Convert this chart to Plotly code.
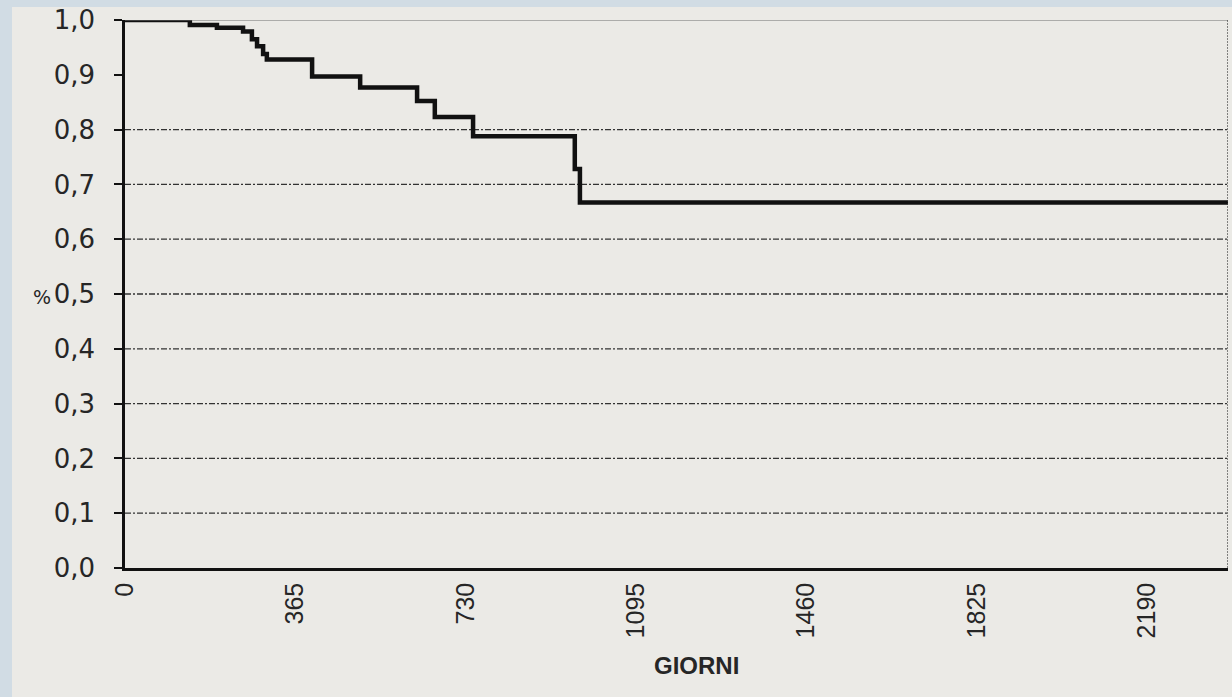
import plotly.graph_objects as go

# Kaplan-Meier survival estimate (days vs. cumulative proportion)
DAYS = [0, 139, 197, 253, 272, 283, 296, 304, 401, 504, 626, 664, 746, 964, 975, 2364]
SURVIVAL = [1.0, 0.991, 0.986, 0.979, 0.965, 0.952, 0.938, 0.928, 0.897, 0.877,
            0.852, 0.823, 0.788, 0.728, 0.667, 0.667]

X_TICKS = [0, 365, 730, 1095, 1460, 1825, 2190]
Y_TICKS = [0.0, 0.1, 0.2, 0.3, 0.4, 0.5, 0.6, 0.7, 0.8, 0.9, 1.0]
GRID_LEVELS = [0.1, 0.2, 0.3, 0.4, 0.5, 0.6, 0.7, 0.8]
X_MAX = 2364

W, H = 1232, 697
ML, MR, MT, MB = 125, 4, 20, 129
PW, PH = W - ML - MR, H - MT - MB

def px_x(p):
    return (p - ML) / PW

def px_y(p):
    return (H - MB - p) / PH

INK = "#262626"
FONT = "Liberation Sans, Arial, sans-serif"
YFONT = "DejaVu Sans, Liberation Sans, sans-serif"

fig = go.Figure()
fig.add_trace(go.Scatter(
    x=DAYS, y=SURVIVAL, mode="lines", line=dict(shape="hv", color="#111111", width=4.5),
    hoverinfo="skip", showlegend=False,
))

shapes = [
    # sheet of paper
    dict(type="rect", xref="paper", yref="paper", x0=px_x(12), x1=px_x(W + 5),
         y0=px_y(H + 5), y1=px_y(7), fillcolor="#ebeae6", line=dict(width=0), layer="below"),
    # plot frame (top and right edges)
    dict(type="line", xref="paper", yref="y", x0=0, x1=1, y0=1.0, y1=1.0,
         line=dict(color="#6e6e6e", width=1.2)),
    dict(type="line", xref="x", yref="paper", x0=X_MAX, x1=X_MAX, y0=0, y1=1,
         line=dict(color="#3a3a3a", width=1.2, dash="2px,1px")),
]
for lv in GRID_LEVELS:
    shapes.append(dict(type="line", xref="paper", yref="y", x0=0, x1=1, y0=lv, y1=lv,
                       line=dict(color="#333333", width=1.3, dash="6px,2px,2px,2px"),
                       layer="below"))

fig.update_layout(
    width=W, height=H,
    margin=dict(l=ML, r=MR, t=MT, b=MB),
    paper_bgcolor="#d1dce4",
    plot_bgcolor="rgba(0,0,0,0)",
    separators=",.",
    shapes=shapes,
    font=dict(family=FONT, size=17, color=INK),
    xaxis=dict(
        range=[0, X_MAX], tickvals=X_TICKS, tickangle=-90, ticks="",
        showgrid=False, zeroline=False, showline=True, linecolor="#111111", linewidth=2.5,
        tickfont=dict(family=FONT, size=25, color=INK), ticklabelstandoff=2,
    ),
    yaxis=dict(
        range=[0, 1.0], tickvals=Y_TICKS, tickformat=".1f", ticks="outside", ticklen=8,
        tickcolor="#111111", tickwidth=1.5,
        showgrid=False, zeroline=False, showline=True, linecolor="#111111", linewidth=2.5,
        tickfont=dict(family=YFONT, size=26, color=INK), ticklabelstandoff=14,
    ),
    annotations=[
        dict(text="%", xref="paper", yref="paper", x=px_x(53), y=px_y(297),
             xanchor="right", yanchor="middle",
             showarrow=False, font=dict(family=YFONT, size=19, color=INK)),
        dict(text="<b>GIORNI</b>", xref="paper", yref="paper", x=px_x(696), y=px_y(665),
             xanchor="center", yanchor="middle",
             showarrow=False, font=dict(family=FONT, size=24, color=INK)),
    ],
)

fig.write_html("out.html")
